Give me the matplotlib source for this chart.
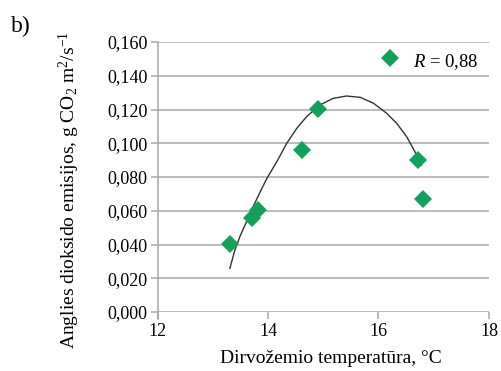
from matplotlib import pyplot as plt
from matplotlib.ticker import FuncFormatter

plt.rcParams['font.family'] = ['Liberation Serif', 'DejaVu Serif']
plt.rcParams['mathtext.fontset'] = 'custom'
plt.rcParams['mathtext.rm'] = 'Liberation Serif'
plt.rcParams['mathtext.it'] = 'Liberation Serif:italic'

# measured points
temp = [13.31, 13.71, 13.82, 14.62, 14.91, 16.21, 16.72, 16.81]
co2 = [0.0403, 0.0557, 0.0604, 0.096, 0.1203, 0.1505, 0.090, 0.067]

# trend line
fit_x = [13.31, 13.40, 13.49, 13.61, 13.73, 13.86, 13.98, 14.16, 14.34,
         14.52, 14.70, 14.94, 15.18, 15.42, 15.67, 15.91, 16.15, 16.33,
         16.51, 16.66, 16.78]
fit_y = [0.0259, 0.0367, 0.0446, 0.0535, 0.0624, 0.0713, 0.0792, 0.0891,
         0.1000, 0.1088, 0.1158, 0.1227, 0.1266, 0.1280, 0.1272, 0.1237,
         0.1177, 0.1118, 0.1039, 0.0950, 0.0871]

x_ticks = [12, 14, 16, 18]
y_ticks = [0.0, 0.02, 0.04, 0.06, 0.08, 0.10, 0.12, 0.14, 0.16]

fig = plt.figure(figsize=(5.01, 3.71), dpi=100)
ax = fig.add_axes([0.3144, 0.159, 0.6616, 0.7278])

for yv in y_ticks:
    ax.axhline(yv, color='#a8a8a8', lw=1.1, zorder=1)

ax.plot(fit_x, fit_y, color='#333333', lw=1.0, zorder=2)
ax.plot(temp, co2, linestyle='none', marker='D', ms=9, color='#12a05c',
        markeredgewidth=0, zorder=3)

ax.set_xlim(12, 18)
ax.set_ylim(0, 0.16)
ax.set_xticks(x_ticks)
ax.set_yticks(y_ticks)
ax.yaxis.set_major_formatter(FuncFormatter(lambda v, p: f'{v:.3f}'.replace('.', ',')))

for s in ['top', 'right', 'bottom']:
    ax.spines[s].set_visible(False)
ax.spines['left'].set_color('#a8a8a8')
ax.spines['left'].set_linewidth(1.1)
ax.spines['left'].set_bounds(-0.004, 0.16)
ax.tick_params(axis='both', colors='#a8a8a8', labelcolor='black',
               labelsize=13, length=5, width=1.1)
ax.tick_params(axis='y', pad=2)
ax.tick_params(axis='x', pad=3)

ax.set_xlabel('Dirvožemio temperatūra, °C', fontsize=14)
ax.xaxis.set_label_coords(0.524, -0.142)
ax.set_ylabel('Anglies dioksido emisijos, g CO$_2$ m$^2$/s$^{-1}$', fontsize=14)
ax.yaxis.set_label_coords(-0.228, 0.45)
ax.text(17.22, 0.148, '$R$ = 0,88', fontsize=13.5, ha='center', va='center')
fig.text(0.022, 0.915, 'b)', fontsize=17)

fig.savefig('out.png', dpi=100)
